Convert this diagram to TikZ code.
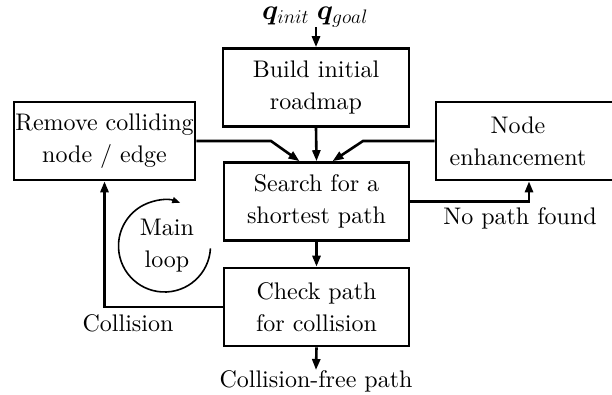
\documentclass[tikz,border=0pt]{standalone}
\usepackage{bm}
\usepackage{fontspec}
\setmainfont{lmroman10-regular.otf}[BoldFont=lmroman10-bold.otf,ItalicFont=lmroman10-italic.otf]
\usetikzlibrary{arrows.meta,calc}
\begin{document}
\begin{tikzpicture}[x=1pt,y=-1pt,
  every node/.style={font=\fontsize{24}{32}\selectfont, align=center, inner sep=0pt},
  box/.style={draw, line width=2.6pt, minimum height=78pt},
  arr/.style={line width=2.6pt, -{Triangle[length=11pt,width=8pt]}},
  ln/.style={line width=2.6pt}]
\useasboundingbox (0,0) rectangle (612,394);
\node[scale=1.13] (q) at (315,17) {$\bm{q}_{init}\;\bm{q}_{goal}$};
\node[box, minimum width=186pt] (build) at (316,87.5) {Build initial\\roadmap};
\node[box, minimum width=181pt] (remove) at (104.5,141) {Remove colliding\\node / edge};
\node[box, minimum width=186pt] (enh) at (529,141) {};
\node (enht) at (518,141) {Node\\enhancement};
\node[box, minimum width=185pt] (search) at (316.5,201.5) {Search for a\\shortest path};
\node[box, minimum width=185pt] (check) at (316.5,307) {Check path\\for collision};
\node (cf) at (316,381) {Collision-free path};
\node (coll) at (128,323) {Collision};
\node (np) at (520,218) {No path found};
\node (loop) at (167,246) {Main\\loop};
\draw[arr] (q.south) ++(1,0) -- (build.north);
\draw[arr] (build.south) -- (search.north);
\draw[arr] (remove.east) -- (271,141) -- ($(search.north)+(-17,0)$);
\draw[arr] (enh.west) -- (363,141) -- ($(search.north)+(16,0)$);
\draw[arr] (search.east) -| (enh.south);
\draw[arr] (check.west) -| (remove.south);
\draw[arr] (search.south) -- (check.north);
\draw[arr] (check.south) -- (cf.north);
\draw[line width=1.6pt, -{Triangle[length=8pt,width=6pt]}] ($(loop.center)+(-2.5,0)+(3:46)$) arc[start angle=3, end angle=290, radius=46];
\end{tikzpicture}
\end{document}
